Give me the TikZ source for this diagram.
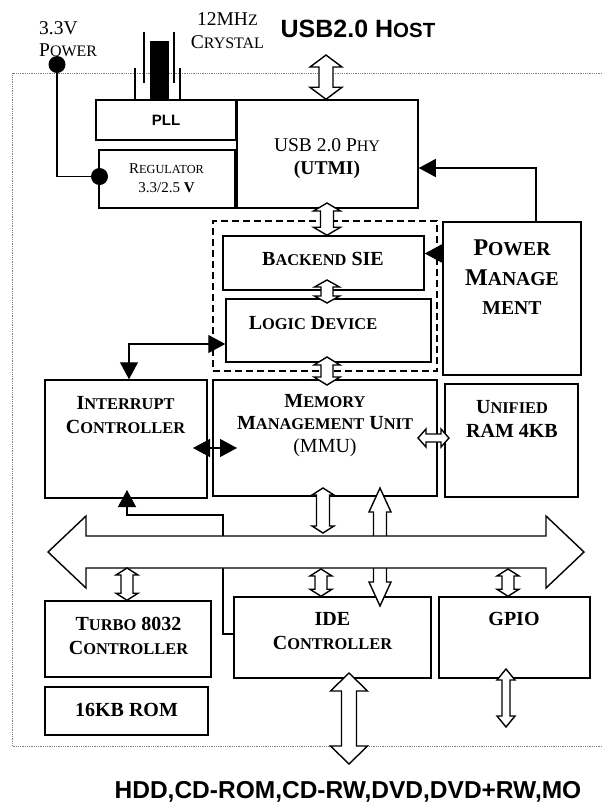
\documentclass[tikz,border=0pt]{standalone}
\usepackage{fontspec}
\setmainfont{Liberation Serif}
\setsansfont{Liberation Sans}
\usetikzlibrary{arrows.meta, calc}

% fake small caps
\newcommand\smc[1]{\scalebox{0.82}{#1}}

% hollow double arrow: from, to, shaft half width, head half width, head length
\newcommand\hollow[5]{%
  \draw[hol] let \p1=(#1), \p2=(#2),
    \n1={atan2(\y2-\y1,\x2-\x1)}, \n2={veclen(\x2-\x1,\y2-\y1)} in
    [shift={(\p1)}, rotate=\n1]
    (0pt,0pt) -- (#5pt,#4pt) -- (#5pt,#3pt) -- ({\n2-#5pt},#3pt)
    -- ({\n2-#5pt},#4pt) -- (\n2,0pt) -- ({\n2-#5pt},-#4pt)
    -- ({\n2-#5pt},-#3pt) -- (#5pt,-#3pt) -- (#5pt,-#4pt) -- cycle;}

\tikzset{
  box/.style={draw, line width=1.5pt, inner sep=0pt},
  hol/.style={draw, fill=white, line width=1.4pt, line join=miter},
  lbl/.style={align=center, inner sep=0pt, font=\fontsize{20}{24}\selectfont\bfseries},
  nlbl/.style={align=center, inner sep=0pt, font=\fontsize{19.5}{23}\selectfont},
  sig/.style={line width=1.3pt},
  dot/.style={circle, fill, inner sep=0pt, minimum size=17pt},
  frame/.style={line width=0.8pt, gray, densely dotted},
}

\begin{document}
\begin{tikzpicture}[x=1pt, y=-1pt, >={Triangle[length=17pt,width=18pt]}]
  \useasboundingbox (0,0) rectangle (602,804);

  % chip outline
  \draw[frame] (602,73) -- (12,73) -- (12,746) -- (602,746);

  % crystal
  \fill (150,41) rectangle (169,100);
  \draw[line width=1.1pt] (144,32) -- (144,83) (174,32) -- (174,83)
    (135,68) -- (135,100) (180,68) -- (180,100);

  % blocks
  \node[box, minimum width=140pt, minimum height=40pt,
    font=\sffamily\bfseries\fontsize{15}{18}\selectfont] (pll) at (166,120) {PLL};
  \node[box, minimum width=181pt, minimum height=108pt] (phy) at (327.5,154) {};
  \node[box, minimum width=136pt, minimum height=58pt] (reg) at (167,179) {};
  \node[box, dash pattern=on 7pt off 4pt, line width=1.4pt,
    minimum width=224pt, minimum height=150pt] (siegrp) at (325,296) {};
  \node[box, minimum width=201pt, minimum height=54pt] (sie) at (323.5,263) {};
  \node[box, minimum width=205pt, minimum height=63pt] (logic) at (328.5,330.5) {};
  \node[box, minimum width=138pt, minimum height=153pt] (pm) at (512,298.5) {};
  \node[box, minimum width=162pt, minimum height=118pt] (irq) at (126,439) {};
  \node[box, minimum width=224pt, minimum height=116pt] (mmu) at (325,438) {};
  \node[box, minimum width=133pt, minimum height=113pt] (ram) at (511.5,440.5) {};
  \node[box, minimum width=166pt, minimum height=76pt] (turbo) at (128,639) {};
  \node[box, minimum width=163pt, minimum height=48pt] (rom) at (126.5,711) {};
  \node[box, minimum width=197pt, minimum height=81pt] (ide) at (332.5,637.5) {};
  \node[box, minimum width=151pt, minimum height=81pt] (gpio) at (514.5,637.5) {};

  % labels
  \node[nlbl, anchor=west, align=left, font=\fontsize{19.5}{22}\selectfont] (pwrlbl) at (39,39.5) {3.3V\\P\smc{OWER}};
  \node[nlbl] (xtallbl) at (227.5,30.5) {12MH\smc{Z}\\C\smc{RYSTAL}};
  \node[font=\sffamily\bfseries\fontsize{25}{30}\selectfont, inner sep=0pt] (hostlbl) at (358,29) {USB2.0 H\smc{OST}};
  \node[nlbl] (phylbl) at (327,159) {USB 2.0 P\smc{HY}\\\bfseries(UTMI)};
  \node[nlbl, font=\fontsize{15}{19}\selectfont] (reglbl) at (166.5,178.5) {R\smc{EGULATOR}\\3.3/2.5 \textbf{V}};
  \node[lbl] (sielbl) at (323,259) {B\smc{ACKEND} SIE};
  \node[lbl] (logiclbl) at (313,323) {L\smc{OGIC} D\smc{EVICE}};
  \node[lbl, font=\fontsize{24}{29.5}\selectfont\bfseries] (pmlbl) at (512,277.5) {P\smc{OWER}\\M\smc{ANAGE}\\\smc{MENT}};
  \node[lbl] (irqlbl) at (125.5,415) {I\smc{NTERRUPT}\\C\smc{ONTROLLER}};
  \node[lbl, font=\fontsize{20}{22.5}\selectfont\bfseries] (mmulbl) at (325,425.5) {M\smc{EMORY}\\M\smc{ANAGEMENT} U\smc{NIT}\\\mdseries(MMU)};
  \node[lbl] (ramlbl) at (512,419) {U\smc{NIFIED}\\RAM 4KB};
  \node[lbl] (turbolbl) at (128.5,636) {T\smc{URBO} 8032\\C\smc{ONTROLLER}};
  \node[lbl] (romlbl) at (126.5,710) {16KB ROM};
  \node[lbl] (idelbl) at (332.5,631) {IDE\\C\smc{ONTROLLER}};
  \node[lbl] (gpiolbl) at (514,619) {GPIO};
  \node[font=\sffamily\bfseries\fontsize{24.5}{29}\selectfont, inner sep=0pt] (extlbl) at (348,792) {HDD,CD-ROM,CD-RW,DVD,DVD+RW,MO};

  % power supply
  \node[dot] (pwr) at (57,64.5) {};
  \node[dot] (regdot) at (99.5,176.5) {};
  \draw[sig] (pwr.center) |- (regdot.center);

  % control lines
  \coordinate (pmtap) at ([yshift=45pt]pm.west);
  \draw[sig, ->] ([xshift=24pt]pm.north) |- ([yshift=-14pt]phy.east);
  \draw[sig, ->] (pmtap) -- (pmtap -| sie.east);
  \coordinate (irqtap) at (129,344);
  \draw[sig, <->] (irqtap -| logic.west) -| (irqtap |- irq.north);
  \coordinate (immL) at (193,448);
  \coordinate (immR) at (237,448);
  \draw[sig, <->] (immL) -- (immR);
  \coordinate (idebend) at (223,515);
  \coordinate (irqin) at (127,490);
  \draw[sig, ->] (ide.west |- 0,634) -| (idebend) -| (irqin);

  % data paths
  \coordinate (hostio) at (326,55);
  \hollow{hostio}{hostio |- phy.north}{7}{16}{12}
  \coordinate (physie) at (327,203);
  \hollow{physie}{physie |- sie.north}{6.5}{13.5}{8}
  \coordinate (sielog) at (327,280);
  \hollow{sielog}{327,303}{6}{12.5}{7}
  \coordinate (logmmu) at (327,357);
  \hollow{logmmu}{327,385}{6}{13}{8}
  \coordinate (mmuram) at (418,438);
  \hollow{mmuram}{449,438}{4}{9}{8}
  \coordinate (idemmu) at (380,488);
  \hollow{idemmu}{380,606}{6.5}{11}{24}

  % system bus
  \coordinate (busL) at (48,552);
  \coordinate (busR) at (584,552);
  \hollow{busL}{busR}{16}{36}{38}

  \coordinate (mmubus) at (323,488);
  \hollow{mmubus}{323,533}{6.5}{11}{7}
  \coordinate (busturbo) at (127,568);
  \hollow{busturbo}{busturbo |- turbo.north}{6}{11}{7}
  \coordinate (buside) at (321,569);
  \hollow{buside}{buside |- ide.north}{6}{11}{7}
  \coordinate (busgpio) at (508,569);
  \hollow{busgpio}{busgpio |- gpio.north}{6}{11}{7}
  \coordinate (ideext) at (349,673);
  \hollow{ideext}{349,764}{7.5}{18.5}{18}
  \coordinate (gpioext) at (506,669);
  \hollow{gpioext}{506,727}{4}{9}{11}
\end{tikzpicture}
\end{document}
